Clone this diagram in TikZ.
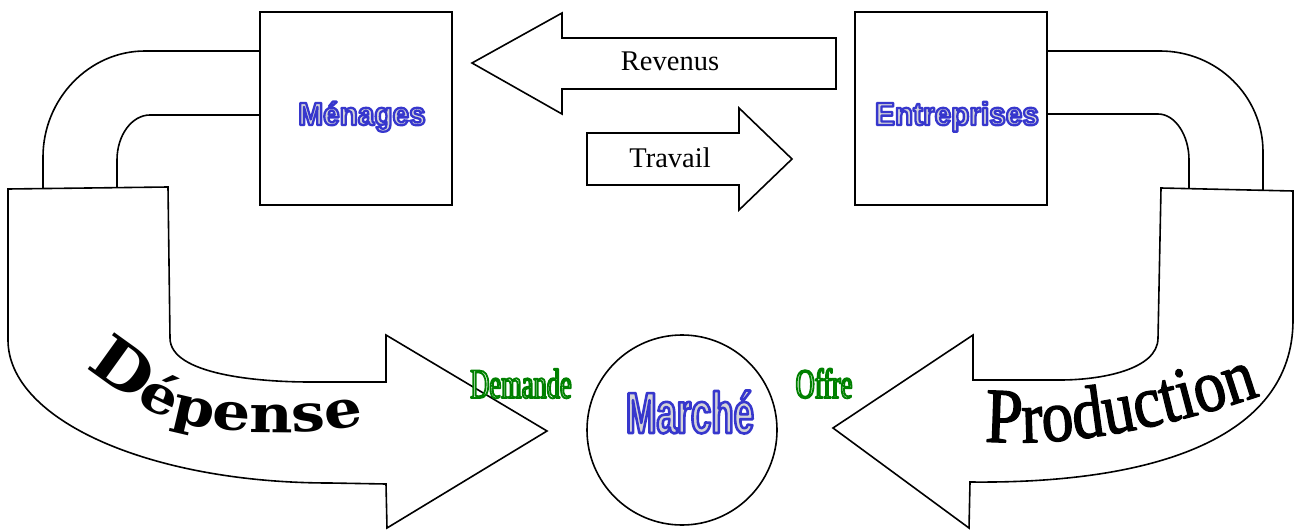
\documentclass[tikz,border=0pt]{standalone}
\usepackage{fontspec}
\setmainfont{Liberation Serif}
\newfontfamily\boxfont{Liberation Sans}[FakeStretch=0.93]
\newfontfamily\marfont{Liberation Sans}[FakeStretch=0.63]
\newfontfamily\dmfont{Liberation Serif}[FakeStretch=0.63]
\newfontfamily\depfont{DejaVu Serif}[FakeStretch=1.15]
\newfontfamily\prodfont{Liberation Serif}[FakeStretch=0.86]
\usetikzlibrary{decorations.text}
\definecolor{wablue}{RGB}{55,55,205}
\definecolor{wagray}{RGB}{212,212,215}
\definecolor{wagreen}{RGB}{0,140,0}
\definecolor{dmfill}{RGB}{235,248,235}
\newcommand\outlinetext[4]{{\color{#1}\special{pdf:literal direct #2 RG #3 w 1 j 2 Tr}#4\special{pdf:literal direct 0 Tr}}}
\newcommand\boldstroke{\special{pdf:literal direct 0 0 0 RG 1.3 w 1 j 2 Tr}}
\newcommand\depD{\depfont\bfseries\fontsize{62}{62}\selectfont}
\newcommand\depR{\depfont\bfseries\fontsize{52}{52}\selectfont}
\newcommand\prodP{\prodfont\fontsize{78}{78}\selectfont\boldstroke}
\newcommand\prodR{\prodfont\fontsize{74}{74}\selectfont\boldstroke}
\begin{document}
\begin{tikzpicture}[x=1pt,y=-1pt,
  shp/.style={draw=black, line width=1.6pt, fill=white, line join=miter},
  pipe/.style={draw=black, line width=1.6pt},
  box/.style={draw=black, line width=1.7pt, fill=white, minimum width=192pt, minimum height=193pt, inner sep=0pt},
  lbl/.style={font=\fontsize{28.5}{30}\selectfont, anchor=base, inner sep=0pt},
  watxt/.style={anchor=base, inner sep=0pt}]
\useasboundingbox (0,0) rectangle (1295,532);
\fill[white] (0,0) rectangle (1295,532);

% pipes (left)
\draw[pipe] (260,51) -- (145,51) .. controls (89,51) and (43,99) .. (43,157) -- (43,188);
\draw[pipe] (260,115) -- (150,115) .. controls (132,115) and (117,135) .. (117,160) -- (117,188);
% pipes (right)
\draw[pipe] (1047,51) -- (1160,51) .. controls (1217,51) and (1263,96) .. (1263,152) -- (1263,190);
\draw[pipe] (1047,114) -- (1158,114) .. controls (1175,114) and (1189,135) .. (1189,160) -- (1189,189);

% boxes
\node[box] (men) at (356,108.5) {};
\node[box] (ent) at (951,108.5) {};
\node[watxt] (mentxt) at (362,125) {\outlinetext{wagray}{0.216 0.216 0.804}{2.3}{\boxfont\bfseries\fontsize{32}{32}\selectfont Ménages}};
\node[watxt] (enttxt) at (957,125) {\outlinetext{wagray}{0.216 0.216 0.804}{2.3}{\boxfont\bfseries\fontsize{32}{32}\selectfont Entreprises}};

% Revenus / Travail arrows
\draw[shp] (836,38) -- (562,38) -- (562,13) -- (472,63) -- (562,114) -- (562,89) -- (836,89) -- cycle;
\node[lbl] (rev) at (670,71) {Revenus};
\draw[shp] (587,133) -- (739,133) -- (739,108) -- (792,159) -- (739,210) -- (739,185) -- (587,185) -- cycle;
\node[lbl] (trav) at (670,167) {Travail};

% Depense arrow
\draw[shp] (8,189) -- (168,187) -- (170,338) .. controls (170,375) and (260,382) .. (310,382) -- (386,382) -- (386,335) -- (547,431) -- (387,528) -- (386,484) -- (330,483) .. controls (150,483) and (8,420) .. (8,340) -- cycle;
\path[decorate, decoration={text along path, text align=center, text={|\depD|D|\depR|épense}}]
  (84,366) .. controls (118,391) and (150,418) .. (200,427) .. controls (250,434) and (310,435) .. (366,424);

% Production arrow
\draw[shp] (1161,188) -- (1293,191) -- (1293,320) .. controls (1293,440) and (1150,484) .. (970,482) -- (969,528) -- (833,428) -- (973,335) -- (973,380) -- (1060,380) .. controls (1100,380) and (1158,370) .. (1158,338) -- cycle;
\path[decorate, decoration={text along path, text align=center, text={|\prodP|P|\prodR|roduction}}]
  (983,441) .. controls (1060,448) and (1160,430) .. (1262,395);

% Marche
\node[draw=black, circle, line width=1.6pt, minimum size=190pt, inner sep=0pt] (mar) at (682,430) {};
\node[watxt] (martxt) at (690,433) {\outlinetext{wagray}{0.216 0.216 0.804}{2.6}{\marfont\bfseries\fontsize{58}{58}\selectfont Marché}};
\node[watxt] (dem) at (521,398) {\outlinetext{dmfill}{0 0.5 0}{1.8}{\dmfont\fontsize{42}{42}\selectfont Demande}};
\node[watxt] (off) at (824,398) {\outlinetext{dmfill}{0 0.5 0}{1.8}{\dmfont\fontsize{42}{42}\selectfont Offre}};
\end{tikzpicture}
\end{document}
